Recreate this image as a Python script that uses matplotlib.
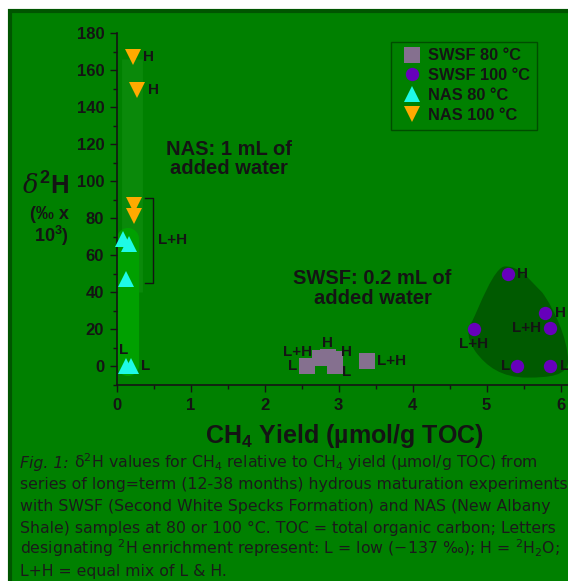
import matplotlib
matplotlib.use('Agg')
import matplotlib.pyplot as plt
from matplotlib.patches import Rectangle, PathPatch
from matplotlib.path import Path

plt.rcParams['font.family'] = ['Liberation Sans', 'DejaVu Sans']
plt.rcParams['mathtext.default'] = 'regular'
plt.rcParams['mathtext.fontset'] = 'custom'
plt.rcParams['mathtext.it'] = 'DejaVu Serif:italic'
plt.rcParams['mathtext.bf'] = 'Liberation Sans:bold'

W, H = 568, 581
INK = '#141414'

# data
swsf80_x = [2.57, 2.75, 2.85, 2.95, 2.95, 3.38]
swsf80_y = [0, 4.5, 5, 4, 0, 3]
swsf80_lab = ['L', 'L+H', 'H', 'H', 'L', 'L+H']

swsf100_x = [5.29, 5.79, 4.83, 5.86, 5.41, 5.86]
swsf100_y = [50, 29, 20, 20.5, 0, 0]
swsf100_lab = ['H', 'H', 'L+H', 'L+H', 'L', 'L']

nas80_x = [0.09, 0.16, 0.13, 0.13, 0.20]
nas80_y = [69, 66, 47, 0.5, 0.5]
nas80_lab = [None, None, None, 'L', 'L']

nas100_x = [0.22, 0.28, 0.23, 0.23]
nas100_y = [167, 149, 87, 81]
nas100_lab = ['H', 'H', None, None]

# label offsets in pixels (dx, dy, ha)
swsf80_off = [(-10, 0, 'right'), (-8, 6, 'right'), (0, 14, 'center'), (6, 7, 'left'), (7, -6, 'left'), (10, 0, 'left')]
swsf100_off = [(9, 0, 'left'), (10, 0, 'left'), (0, -15, 'center'), (-9, 0, 'right'), (-7, 0, 'right'), (10, 0, 'left')]
nas80_off = [None, None, None, (-3, 16, 'center'), (10, 0, 'left')]
nas100_off = [(10, 0, 'left'), (11, 0, 'left'), None, None]

caption_head = 'Fig. 1:'
caption = [
    ' δ$^2$H values for CH$_4$ relative to CH$_4$ yield (µmol/g TOC) from',
    'series of long=term (12-38 months) hydrous maturation experiments',
    'with SWSF (Second White Specks Formation) and NAS (New Albany',
    'Shale) samples at 80 or 100 °C. TOC = total organic carbon; Letters',
    'designating $^2$H enrichment represent: L = low (−137 ‰); H = $^2$H$_2$O;',
    'L+H = equal mix of L & H.',
]

fig = plt.figure(figsize=(W / 100, H / 100), dpi=100, facecolor='white')
fig.patches.append(Rectangle((10 / W, -0.1), 1.2, 1 - 10.5 / H + 0.1, transform=fig.transFigure,
                             facecolor='#008000', edgecolor='#005500', linewidth=3, zorder=-5))

ax = fig.add_axes([116.7 / W, (H - 385) / H, 455 / W, 352 / H])
ax.patch.set_visible(False)
ax.set_xlim(0, 6.15)
ax.set_ylim(-10, 180)

# highlight shapes
ax.plot([0.21, 0.21], [40, 166], color='#0a890a', lw=15, solid_capstyle='butt', zorder=1)
ax.plot([0.15, 0.15], [1, 69], color='#00a000', lw=16, solid_capstyle='round', zorder=1)
blob = Path([(5.25, 54), (5.45, 54), (5.55, 48), (5.75, 40),
             (5.9, 32), (6.1, 15), (6.1, 3),
             (6.1, -5), (5.85, -6), (5.55, -6),
             (5.2, -6), (5.0, 0), (4.85, 8),
             (4.75, 14), (4.72, 20), (4.8, 24),
             (4.9, 32), (5.1, 54), (5.25, 54)],
            [Path.MOVETO] + [Path.CURVE4] * 18)
ax.add_patch(PathPatch(blob, facecolor='#005a00', edgecolor='none', zorder=1))

series = [
    (swsf80_x, swsf80_y, swsf80_lab, swsf80_off, 's', 11.5, '#85708f', 'SWSF 80 °C'),
    (swsf100_x, swsf100_y, swsf100_lab, swsf100_off, 'o', 9.6, '#6600bb', 'SWSF 100 °C'),
    (nas80_x, nas80_y, nas80_lab, nas80_off, '^', 11.5, '#1efae6', 'NAS 80 °C'),
    (nas100_x, nas100_y, nas100_lab, nas100_off, 'v', 11.5, '#ffaa00', 'NAS 100 °C'),
]
for xs, ys, labs, offs, mk, ms, col, name in series:
    ax.plot(xs, ys, linestyle='none', marker=mk, markersize=ms, color=col,
            markeredgewidth=0, label=name, zorder=3, clip_on=False)
    for x, y, lab, off in zip(xs, ys, labs, offs):
        if lab is None:
            continue
        ax.annotate(lab, (x, y), xytext=(off[0], off[1]), textcoords='offset pixels',
                    ha=off[2], va='center', fontsize=11, fontweight='bold', color=INK, zorder=4)

# bracket for the NAS L+H group
ax.plot([0.38, 0.49, 0.49, 0.38], [91, 91, 45, 45], color=INK, lw=1, zorder=2)
ax.text(0.56, 68, 'L+H', ha='left', va='center', fontsize=11, fontweight='bold', color=INK)

ax.text(1.515, 112, 'NAS: 1 mL of\nadded water', ha='center', va='center', fontsize=14.5,
        fontweight='bold', color=INK, linespacing=1.05)
ax.text(3.46, 42, 'SWSF: 0.2 mL of\nadded water', ha='center', va='center', fontsize=14.5,
        fontweight='bold', color=INK, linespacing=1.05)

for side in ['top', 'right']:
    ax.spines[side].set_visible(False)
for side in ['left', 'bottom']:
    ax.spines[side].set_linewidth(1.2)
    ax.spines[side].set_color(INK)
ax.set_xticks([0, 1, 2, 3, 4, 5, 6])
ax.set_xticks([0.5, 1.5, 2.5, 3.5, 4.5, 5.5], minor=True)
ax.set_yticks(range(0, 181, 20))
ax.set_yticks(range(-10, 180, 20), minor=True)
ax.tick_params(which='major', direction='out', length=5, width=1, color=INK, labelcolor=INK,
               labelsize=12, pad=4)
ax.tick_params(which='minor', direction='out', length=3, width=1, color=INK)
for t in ax.get_xticklabels() + ax.get_yticklabels():
    t.set_fontweight('bold')

ax.set_xlabel('CH$_4$ Yield (µmol/g TOC)', fontsize=18, fontweight='bold', color=INK, labelpad=7)

# y label, stacked as in the reference
fig.text(69 / W, 1 - 195 / H, r'$\mathit{\delta}^{\mathbf{2}}$H', fontsize=18.5, fontweight='bold',
         ha='right', va='baseline', color=INK)
fig.text(69 / W, 1 - 219 / H, '(‰ x', fontsize=13, fontweight='bold', ha='right', va='baseline', color=INK)
fig.text(69 / W, 1 - 242 / H, '10$^3$)', fontsize=13, fontweight='bold', ha='right', va='baseline', color=INK)

leg = ax.legend(loc='upper left', bbox_to_anchor=(390.7 / W, 1 - 41.7 / H), bbox_transform=fig.transFigure,
                borderaxespad=0, frameon=True, fancybox=False, borderpad=0.4, handlelength=1.8,
                handletextpad=0.1, labelspacing=0.3, numpoints=1, markerscale=1.0,
                prop={'weight': 'bold', 'size': 11.8})
leg.get_frame().set_facecolor('none')
leg.get_frame().set_edgecolor('#004000')
leg.get_frame().set_linewidth(1)
for t in leg.get_texts():
    t.set_color(INK)

cap_size = 11.3
baselines = [468, 489.5, 511, 532.5, 554, 576]
head = fig.text(20 / W, 1 - baselines[0] / H, caption_head, family='DejaVu Sans', style='italic',
                fontsize=cap_size, color='#1a1a1a', ha='left', va='baseline')
renderer = fig.canvas.get_renderer()
head_end = head.get_window_extent(renderer).x1
for i, (line, yb) in enumerate(zip(caption, baselines)):
    x0 = head_end / W if i == 0 else 20 / W
    fig.text(x0, 1 - yb / H, line, family='DejaVu Sans', fontsize=cap_size, color='#1a1a1a',
             ha='left', va='baseline')

fig.savefig('out.png', dpi=100)
